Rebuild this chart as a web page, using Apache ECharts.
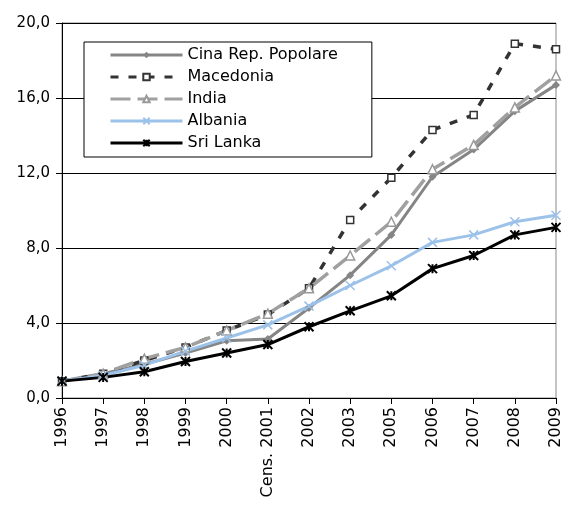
<!DOCTYPE html>
<html>
<head>
<meta charset="utf-8">
<script src="https://cdn.jsdelivr.net/npm/echarts@6/dist/echarts.min.js"></script>
<style>html,body{margin:0;padding:0;background:#fff;}#c{width:567px;height:525px;}</style>
</head>
<body>
<div id="c"></div>
<script>
const categories = ['1996','1997','1998','1999','2000','Cens. 2001','2002','2003','2005','2006','2007','2008','2009'];
const cina      = [0.9, 1.3, 1.8, 2.4, 3.05, 3.15, 4.8, 6.55, 8.7, 11.8, 13.25, 15.3, 16.7];
const macedonia = [0.9, 1.3, 2.0, 2.7, 3.6, 4.45, 5.85, 9.5, 11.75, 14.3, 15.1, 18.9, 18.6];
const india     = [0.9, 1.3, 2.1, 2.7, 3.6, 4.5, 5.85, 7.6, 9.4, 12.2, 13.5, 15.5, 17.2];
const albania   = [0.9, 1.2, 1.75, 2.5, 3.2, 3.9, 4.9, 6.0, 7.05, 8.3, 8.7, 9.4, 9.75];
const sriLanka  = [0.9, 1.1, 1.4, 1.95, 2.4, 2.85, 3.8, 4.65, 5.45, 6.9, 7.6, 8.7, 9.1];
const yTicks = {min: 0, max: 20, interval: 4};

const chart = echarts.init(document.getElementById('c'), null, {renderer: 'canvas'});
const xMark = 'path://M0,0L10,10M10,0L0,10';
const starMark = 'path://M0,0L10,10M10,0L0,10M5,0L5,10';
chart.setOption({
  animation: false,
  backgroundColor: '#fff',
  grid: {left: 62, right: 11, top: 23, bottom: 127, show: true, borderColor: '#888', borderWidth: 1},
  legend: {
    orient: 'vertical', left: 84, top: 42,
    backgroundColor: '#fff', borderColor: '#000', borderWidth: 1,
    padding: [5, 34, 6, 25],
    itemWidth: 72, itemHeight: 8, itemGap: 6,
    lineStyle: {width: 3},
    textStyle: {fontFamily: 'DejaVu Sans', fontSize: 16, color: '#000', lineHeight: 16},
    data: ['Cina Rep. Popolare', 'Macedonia', 'India', 'Albania', 'Sri Lanka']
  },
  xAxis: {
    type: 'category', data: categories, boundaryGap: false,
    axisLine: {lineStyle: {color: '#000', width: 1}},
    axisTick: {show: true, length: 6, lineStyle: {color: '#000'}},
    axisLabel: {rotate: 90, fontFamily: 'DejaVu Sans', fontSize: 16, color: '#000', margin: 9, interval: 0}
  },
  yAxis: {
    type: 'value', min: yTicks.min, max: yTicks.max, interval: yTicks.interval,
    axisLine: {show: true, lineStyle: {color: '#000', width: 1}},
    axisTick: {show: true, length: 6, lineStyle: {color: '#000'}},
    axisLabel: {fontFamily: 'DejaVu Sans', fontSize: 15, color: '#000', margin: 12,
      formatter: v => v.toFixed(1).replace('.', ',')},
    splitLine: {show: true, lineStyle: {color: '#000', width: 1}}
  },
  series: [
    {name: 'Cina Rep. Popolare', type: 'line', data: cina, symbol: 'diamond', symbolSize: 8,
      lineStyle: {color: '#858585', width: 3}, itemStyle: {color: '#858585'}},
    {name: 'Macedonia', type: 'line', data: macedonia, symbol: 'rect', symbolSize: 7,
      lineStyle: {color: '#333', width: 3.5, type: [8, 10]},
      itemStyle: {color: '#fff', borderColor: '#333', borderWidth: 1.5}},
    {name: 'India', type: 'line', data: india, symbol: 'triangle', symbolSize: 9,
      lineStyle: {color: '#a0a0a0', width: 3.5, type: [20, 7]},
      itemStyle: {color: '#fff', borderColor: '#999', borderWidth: 1.5}},
    {name: 'Albania', type: 'line', data: albania, symbol: xMark, symbolSize: 9,
      lineStyle: {color: '#9cc2ea', width: 3}, itemStyle: {color: 'rgba(0,0,0,0)', borderColor: '#9cc2ea', borderWidth: 1.5}},
    {name: 'Sri Lanka', type: 'line', data: sriLanka, symbol: starMark, symbolSize: 9,
      lineStyle: {color: '#000', width: 3}, itemStyle: {color: 'rgba(0,0,0,0)', borderColor: '#000', borderWidth: 2}}
  ]
});
</script>
</body>
</html>
